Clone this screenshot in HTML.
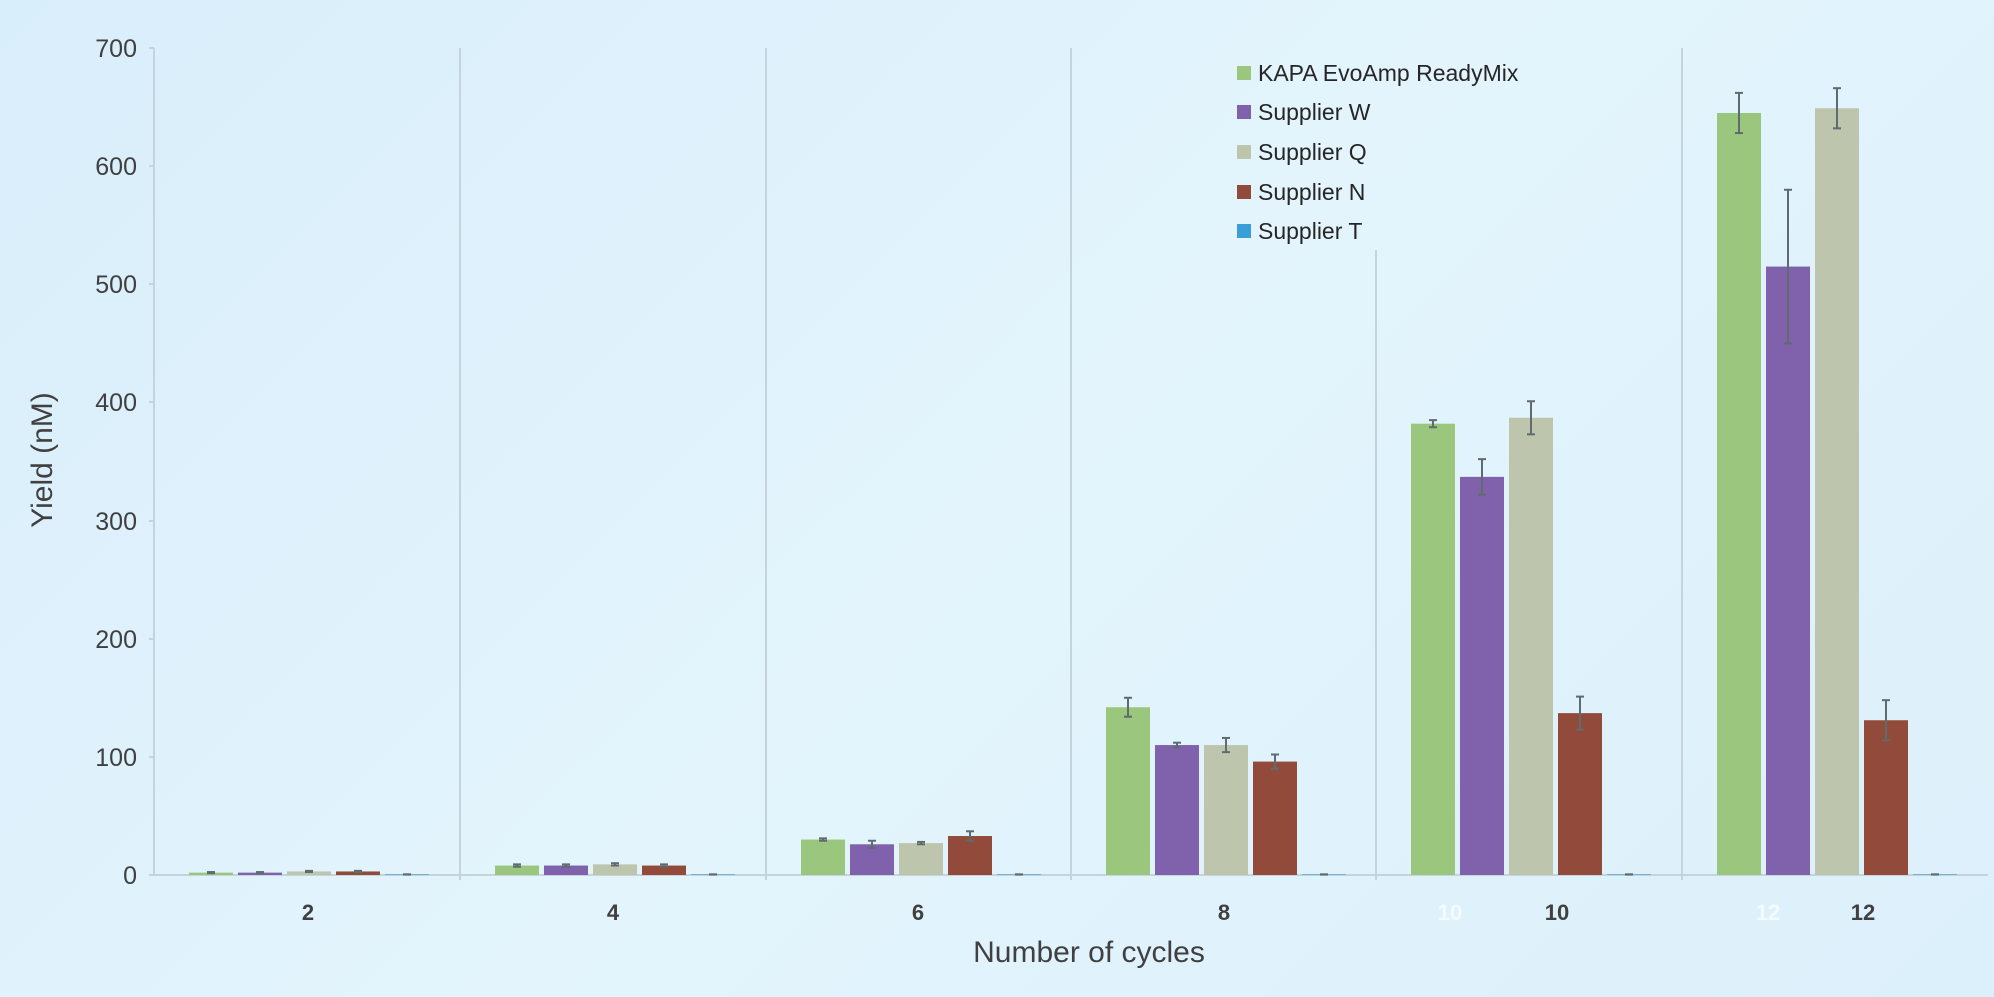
<!DOCTYPE html>
<html><head><meta charset="utf-8"><style>
html,body{margin:0;padding:0;width:1994px;height:997px;overflow:hidden}
body{background:linear-gradient(135deg,#d9eefb 0%,#e3f4fc 50%,#dcf0fb 100%);font-family:"Liberation Sans",Arial,sans-serif}
svg{position:absolute;left:0;top:0}
</style></head><body>
<svg id="c" width="1994" height="997" xmlns="http://www.w3.org/2000/svg" font-family="Liberation Sans, Arial, sans-serif">
<g id="grid" stroke="#c5d3dc" stroke-width="2">
<line x1="154" y1="48" x2="154" y2="875"/>
<line x1="149" y1="48" x2="154" y2="48"/><line x1="149" y1="166" x2="154" y2="166"/>
<line x1="149" y1="284" x2="154" y2="284"/><line x1="149" y1="402" x2="154" y2="402"/>
<line x1="149" y1="521" x2="154" y2="521"/><line x1="149" y1="639" x2="154" y2="639"/>
<line x1="149" y1="757" x2="154" y2="757"/><line x1="149" y1="875" x2="154" y2="875"/>
<line x1="460" y1="48" x2="460" y2="880"/><line x1="766" y1="48" x2="766" y2="880"/>
<line x1="1071" y1="48" x2="1071" y2="880"/><line x1="1376" y1="250" x2="1376" y2="880"/>
<line x1="1682" y1="48" x2="1682" y2="880"/>
<line x1="154" y1="875" x2="1988" y2="875"/>
</g>
<g id="bars"></g>
<g font-size="25" fill="#404040" text-anchor="end">
<text x="137" y="57">700</text><text x="137" y="175">600</text><text x="137" y="293">500</text>
<text x="137" y="411">400</text><text x="137" y="530">300</text><text x="137" y="648">200</text>
<text x="137" y="766">100</text><text x="137" y="884">0</text>
</g>
<g font-size="22" font-weight="bold" fill="#404040" text-anchor="middle">
<text x="308" y="920">2</text><text x="613" y="920">4</text><text x="918" y="920">6</text>
<text x="1224" y="920">8</text><text x="1557" y="920">10</text><text x="1863" y="920">12</text>
</g>
<g font-size="22" font-weight="bold" fill="#f4fbff" text-anchor="middle">
<text x="1450" y="920">10</text><text x="1768" y="920">12</text>
</g>
<text x="1089" y="962" font-size="30" fill="#404040" text-anchor="middle">Number of cycles</text>
<text transform="translate(52,460) rotate(-90)" font-size="30" fill="#404040" text-anchor="middle">Yield (nM)</text>
<g font-size="23" fill="#262626">
<rect x="1237" y="66" width="14" height="14" fill="#9bc67e"/><text x="1258" y="81">KAPA EvoAmp ReadyMix</text>
<rect x="1237" y="105" width="14" height="14" fill="#7f62ab"/><text x="1258" y="120">Supplier W</text>
<rect x="1237" y="145" width="14" height="14" fill="#bec5ad"/><text x="1258" y="160">Supplier Q</text>
<rect x="1237" y="185" width="14" height="14" fill="#924b3a"/><text x="1258" y="200">Supplier N</text>
<rect x="1237" y="224" width="14" height="14" fill="#3a9fd6"/><text x="1258" y="239">Supplier T</text>
</g>
</svg>
<script>
(function(){
var cols=["#9bc67e","#7f62ab","#bec5ad","#924b3a","#3a9fd6"];
var vals=[[2,2,3,3,0.5],[8,8,9,8,0.5],[30,26,27,33,0.5],[142,110,110,96,0.5],[382,337,387,137,0.5],[645,515,649,131,0.5]];
var errs=[[0.5,0.5,0.5,0.5,0],[1,1,1,1,0],[1,3,1,4,0],[8,2,6,6,0],[3,15,14,14,0],[17,65,17,17,0]];
var starts=[154,460,766,1071,1376,1682];
var s=827/700,y0=875,h="";
for(var g=0;g<6;g++)for(var i=0;i<5;i++){
 var x=starts[g]+35+i*49,w=44,v=vals[g][i],yt=y0-v*s;
 h+='<rect x="'+x+'" y="'+yt+'" width="'+w+'" height="'+(v*s)+'" fill="'+cols[i]+'"/>';
 var e=errs[g][i]*s,cx=x+w/2;
 h+='<g stroke="#5f6b6f" stroke-width="2"><line x1="'+cx+'" y1="'+(yt-e)+'" x2="'+cx+'" y2="'+(yt+e)+'"/><line x1="'+(cx-4)+'" y1="'+(yt-e)+'" x2="'+(cx+4)+'" y2="'+(yt-e)+'"/><line x1="'+(cx-4)+'" y1="'+(yt+e)+'" x2="'+(cx+4)+'" y2="'+(yt+e)+'"/></g>';
}
document.getElementById("bars").innerHTML=h;
})();
</script>
</body></html>
